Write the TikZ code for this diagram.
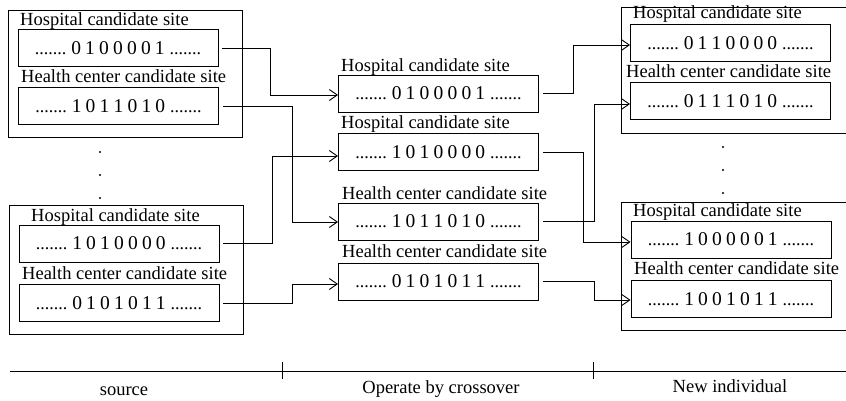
\documentclass[tikz,border=0pt]{standalone}
\usepackage{fontspec}
\setmainfont{Liberation Serif}
\usetikzlibrary{arrows.meta}

\tikzset{
  codebox/.style={draw, line width=0.9pt, minimum width=200pt, minimum height=37pt,
                  inner sep=0pt},
  lbl/.style={anchor=base west, inner sep=0pt, font=\fontsize{18.5}{20}\selectfont},
  caption/.style={anchor=base, inner sep=0pt, font=\fontsize{18.5}{20}\selectfont},
  frame/.style={line width=0.9pt},
  link/.style={line width=0.9pt, shorten <=4pt,
               -{Straight Barb[length=8pt,width=11pt,line width=0.9pt]}},
  vdot/.style={fill, circle, inner sep=0pt, minimum size=2.4pt}
}

% gene string: dotted ellipses around slightly larger, tightly spaced digits
\newcommand{\gdots}{{\fontsize{18}{20}\selectfont .......}}
\newcommand{\code}[1]{\gdots\hspace{5pt}%
  {\fontsize{19.5}{20}\selectfont\spaceskip=4.2pt\relax #1}%
  \hspace{5pt}\gdots\hspace{8pt}}

\begin{document}
\begin{tikzpicture}[x=1pt, y=-1pt]
  \useasboundingbox (0,0) rectangle (846,401);

  % ---- source individuals ----
  \draw[frame] (8,10) rectangle (242,137);
  \node[lbl] at (20,26) {Hospital candidate site};
  \node[codebox] (L1) at (118,48) {\code{0 1 0 0 0 0 1}};
  \node[lbl] at (21,83) {Health center candidate site};
  \node[codebox] (L2) at (118.5,106) {\code{1 0 1 1 0 1 0}};

  \node[vdot] (ld1) at (100,152) {};
  \node[vdot] (ld2) at (100,175) {};
  \node[vdot] (ld3) at (100,198) {};

  \draw[frame] (9,205) rectangle (243,334);
  \node[lbl] at (31,221) {Hospital candidate site};
  \node[codebox] (L3) at (119,243.5) {\code{1 0 1 0 0 0 0}};
  \node[lbl] at (22,279) {Health center candidate site};
  \node[codebox] (L4) at (119,303) {\code{0 1 0 1 0 1 1}};

  % ---- after crossover ----
  \node[lbl] at (341,72) {Hospital candidate site};
  \node[codebox] (M1) at (438.5,93.5) {\code{0 1 0 0 0 0 1}};
  \node[lbl] at (341,129) {Hospital candidate site};
  \node[codebox] (M2) at (438.5,152) {\code{1 0 1 0 0 0 0}};
  \node[lbl] at (342,199) {Health center candidate site};
  \node[codebox] (M3) at (438.5,221.5) {\code{1 0 1 1 0 1 0}};
  \node[lbl] at (342,257) {Health center candidate site};
  \node[codebox] (M4) at (438.5,281.5) {\code{0 1 0 1 0 1 1}};

  % ---- new individuals ----
  \draw[frame] (846,7) -- (621,7) -- (621,133) -- (846,133);
  \node[lbl] at (633,19) {Hospital candidate site};
  \node[codebox] (R1) at (730.5,43) {\code{0 1 1 0 0 0 0}};
  \node[lbl] at (626,78) {Health center candidate site};
  \node[codebox] (R2) at (730.5,101) {\code{0 1 1 1 0 1 0}};

  \node[vdot] (rd1) at (723,147) {};
  \node[vdot] (rd2) at (723,170) {};
  \node[vdot] (rd3) at (723,193) {};

  \draw[frame] (846,202) -- (621,202) -- (621,330) -- (846,330);
  \node[lbl] at (633,216) {Hospital candidate site};
  \node[codebox] (R3) at (731,239.5) {\code{1 0 0 0 0 0 1}};
  \node[lbl] at (634,274) {Health center candidate site};
  \node[codebox] (R4) at (731,299) {\code{1 0 0 1 0 1 1}};

  % ---- crossover links ----
  \draw[link] (L1.east) -- ++(52,0) |- ([yshift=-1.5pt]M1.west);
  \draw[link] (L2.east) -- ++(73.5,0) |- ([yshift=-0.5pt]M3.west);
  \draw[link] (L3.east) -- ++(53,0) |- ([yshift=-4pt]M2.west);
  \draw[link] (L4.east) -- ++(73,0) |- ([yshift=-2.5pt]M4.west);

  \draw[link] (M1.east) -- ++(34,0) |- ([yshift=-2pt]R1.west);
  \draw[link] (M2.east) -- ++(44,0) |- ([yshift=-2.5pt]R3.west);
  \draw[link] (M3.east) -- ++(55,0) |- ([yshift=-3pt]R2.west);
  \draw[link] (M4.east) -- ++(55,0) |- ([yshift=-1pt]R4.west);

  % ---- stage axis ----
  \coordinate (ax0) at (10,371);
  \coordinate (ax1) at (846,371);
  \draw[frame] (ax0) -- (ax1);
  \coordinate (t1) at (282,371);
  \coordinate (t2) at (593,371);
  \draw[frame] ([yshift=9pt]t1) -- ([yshift=-8pt]t1);
  \draw[frame] ([yshift=9pt]t2) -- ([yshift=-8pt]t2);
  \node[caption] (c1) at (124,395) {source};
  \node[caption] (c2) at (441,393) {Operate by crossover};
  \node[caption] (c3) at (730,392) {New individual};
\end{tikzpicture}
\end{document}
